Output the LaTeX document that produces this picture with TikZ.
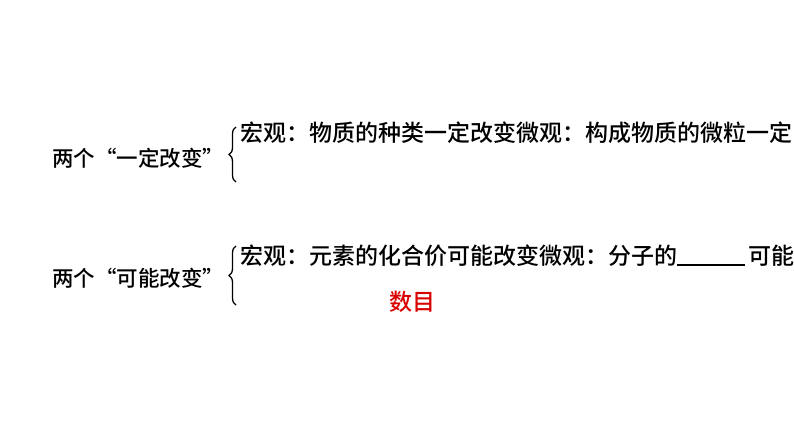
\documentclass[tikz,border=0pt]{standalone}
\usepackage{fontspec}
\setmainfont{Noto Sans CJK SC Medium}
\usetikzlibrary{decorations.pathreplacing}
\begin{document}
\begin{tikzpicture}[x=1pt,y=-1pt,
  txt/.style={anchor=west,inner sep=0pt,font=\fontsize{23pt}{24pt}\selectfont},
  lbl/.style={anchor=west,inner sep=0pt,font=\fontsize{21.5pt}{22pt}\selectfont},
  br/.style={decorate,decoration={brace,amplitude=7pt,mirror},line width=1.3pt}]
\useasboundingbox (0,0) rectangle (794,447);
\node[lbl] (l1) at (52,158) {两个“一定改变”};
\coordinate (b1t) at (236,127);
\coordinate (b1b) at (236,182);
\draw[br] (b1t) -- (b1b);
\node[txt] (r1) at (240,133) {宏观：物质的种类一定改变微观：构成物质的微粒一定};
\node[lbl] (l2) at (52,278) {两个“可能改变”};
\coordinate (b2t) at (236,246);
\coordinate (b2b) at (236,305);
\draw[br] (b2t) -- (b2b);
\node[txt] (r2) at (240,256) {宏观：元素的化合价可能改变微观：分子的};
\coordinate (u1) at (r2.south east);
\coordinate (u2) at ([xshift=68pt]r2.south east);
\draw[line width=1.8pt] ([yshift=2pt]u1) -- ([yshift=2pt]u2);
\node[txt] (r3) at ([xshift=3pt]u2 |- r2.west) {可能};
\node[txt,text=red!85!black] (a) at (389,302) {数目};
\end{tikzpicture}
\end{document}
